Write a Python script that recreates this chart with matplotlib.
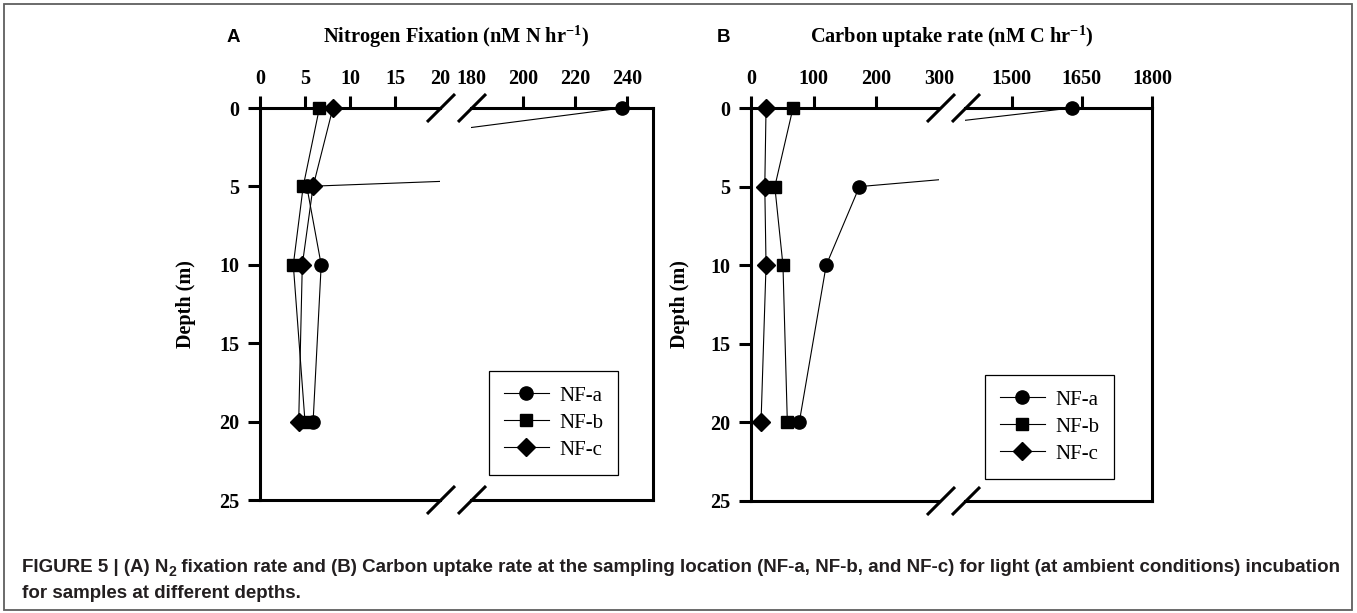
import matplotlib
matplotlib.use("Agg")
import matplotlib.pyplot as plt
from matplotlib.lines import Line2D
from matplotlib.patches import Rectangle
import numpy as np

plt.rcParams['mathtext.fontset'] = 'custom'
plt.rcParams['mathtext.rm'] = 'Liberation Serif:bold'
plt.rcParams['mathtext.it'] = 'Liberation Serif:bold:italic'
plt.rcParams['mathtext.bf'] = 'Liberation Serif:bold'

# ---------------- data ----------------
depth = [0, 5, 10, 20]
series_names = ["NF-a", "NF-b", "NF-c"]
markers = ["o", "s", "D"]

# Panel A: Nitrogen fixation (nM N hr-1)
nfix_a = [238.0, 5.2, 6.8, 5.9]
nfix_b = [6.6, 4.8, 3.7, 5.0]
nfix_c = [8.1, 5.9, 4.7, 4.3]

# Panel B: Carbon uptake rate (nM C hr-1)
carb_a = [1628.0, 173.0, 120.0, 77.0]
carb_b = [67.0, 38.0, 51.0, 58.0]
carb_c = [24.0, 22.0, 24.0, 16.0]

depth_ticks = [0, 5, 10, 15, 20, 25]
a_ticks1 = [0, 5, 10, 15, 20]
a_ticks2 = [180, 200, 220, 240]
b_ticks1 = [0, 100, 200, 300]
b_ticks2 = [1500, 1650, 1800]
a_lim1, a_lim2 = (0, 20), (180, 250)
b_lim1, b_lim2 = (0, 300), (1400, 1800)

caption1_pre = "FIGURE 5 | (A) N"
caption1_sub = "2"
caption1_post = (" fixation rate and (B) Carbon uptake rate at the sampling location "
                 "(NF-a, NF-b, and NF-c) for light (at ambient conditions) incubation")
caption2 = "for samples at different depths."

# ---------------- layout ----------------
W, H = 1357, 613
fig = plt.figure(figsize=(W / 100, H / 100), dpi=100)

def rect(x0, x1, y0, y1):
    return [x0 / W, 1 - y1 / H, (x1 - x0) / W, (y1 - y0) / H]

SERIF = "Liberation Serif"
SPW = 2.2
TFS = 14.5

def make_axis(pos, xlim, ticks, side, hidden_ticklines):
    ax = fig.add_axes(pos)
    ax.set_xlim(*xlim)
    ax.set_ylim(25, 0)
    ax.xaxis.tick_top()
    ax.set_xticks(ticks)
    ax.set_xticklabels([str(t) for t in ticks], fontfamily=SERIF,
                       fontweight='bold', fontsize=TFS)
    ax.tick_params(axis='x', which='both', direction='out', length=9,
                   width=SPW, pad=5, top=True, bottom=False)
    for sp in ax.spines.values():
        sp.set_linewidth(SPW)
    if side == 'left':
        ax.spines['right'].set_visible(False)
        ax.set_yticks(depth_ticks)
        ax.set_yticklabels([str(t) for t in depth_ticks], fontfamily=SERIF,
                           fontweight='bold', fontsize=TFS)
        ax.tick_params(axis='y', direction='out', length=9, width=SPW,
                       pad=6, left=True, right=False)
    else:
        ax.spines['left'].set_visible(False)
        ax.set_yticks([])
    for i in hidden_ticklines:
        ax.xaxis.get_major_ticks()[i].tick2line.set_visible(False)
    ax.patch.set_alpha(0)
    return ax

def plot_series(ax, xs_list, xlim):
    for xs, mk in zip(xs_list, markers):
        ax.plot(xs, depth, color='black', lw=0.8, zorder=2)
        xs = np.asarray(xs)
        d = np.asarray(depth)
        m = (xs >= xlim[0]) & (xs <= xlim[1])
        ax.plot(xs[m], d[m], linestyle='none', marker=mk, color='black',
                markersize=9.5 if mk != 's' else 8.5, clip_on=False, zorder=5)

# Panel A
axA1 = make_axis(rect(260, 440, 108, 500), a_lim1, a_ticks1, 'left', [4])
axA2 = make_axis(rect(471, 653, 108, 500), a_lim2, a_ticks2, 'right', [0])
for ax, lim in ((axA1, a_lim1), (axA2, a_lim2)):
    plot_series(ax, [nfix_a, nfix_b, nfix_c], lim)

# Panel B
axB1 = make_axis(rect(751, 939, 108, 501), b_lim1, b_ticks1, 'left', [3])
axB2 = make_axis(rect(965, 1152, 108, 501), b_lim2, b_ticks2, 'right', [])
for ax, lim in ((axB1, b_lim1), (axB2, b_lim2)):
    plot_series(ax, [carb_a, carb_b, carb_c], lim)

for ax in (axA1, axB1):
    ax.set_ylabel("Depth (m)", fontfamily=SERIF, fontweight='bold', fontsize=TFS)
axA1.yaxis.set_label_coords((196 - 260) / 180, 0.5)
axB1.yaxis.set_label_coords((690 - 751) / 188, 0.5)

# break marks
def brk(cx, cy):
    d = 14
    fig.add_artist(Line2D([(cx - d) / W, (cx + d) / W],
                          [1 - (cy + d) / H, 1 - (cy - d) / H],
                          color='black', lw=SPW, solid_capstyle='butt'))

for cx in (441, 472, 941, 966):
    brk(cx, 108)
for cx in (441, 472):
    brk(cx, 500)
for cx in (941, 966):
    brk(cx, 501)

# legends
handles = [Line2D([0], [0], color='black', lw=0.8, marker=mk,
                  markersize=9.5 if mk != 's' else 8.5) for mk in markers]
for ax, (lx, ly) in ((axA2, (489, 371)), (axB2, (985, 375))):
    leg = ax.legend(handles, series_names, loc='upper left',
                    bbox_to_anchor=(lx / W, 1 - ly / H),
                    bbox_transform=fig.transFigure, borderaxespad=0,
                    prop={'family': SERIF, 'size': 15}, fancybox=False,
                    framealpha=1, edgecolor='black', handlelength=2.15,
                    handletextpad=0.5, labelspacing=0.36, borderpad=0.72)
    leg.get_frame().set_linewidth(0.9)

# titles and panel letters
fig.text(456 / W, 1 - 37 / H, r"Nitrogen Fixation (nM N hr$^{-1}$)",
         ha='center', va='center', fontfamily=SERIF, fontweight='bold', fontsize=14.7)
fig.text(952 / W, 1 - 37 / H, r"Carbon uptake rate (nM C hr$^{-1}$)",
         ha='center', va='center', fontfamily=SERIF, fontweight='bold', fontsize=14.7)
fig.text(227 / W, 1 - 38 / H, "A", ha='left', va='center',
         fontfamily='Liberation Sans', fontweight='bold', fontsize=13.5)
fig.text(717 / W, 1 - 38 / H, "B", ha='left', va='center',
         fontfamily='Liberation Sans', fontweight='bold', fontsize=13.5)

# caption
CAP = dict(fontfamily='Liberation Sans', fontweight='bold', color='#231f20')
cs = 13.5
renderer = fig.canvas.get_renderer()
y1 = 1 - 572 / H
t1 = fig.text(22 / W, y1, caption1_pre, ha='left', va='baseline', fontsize=cs, **CAP)
bb = t1.get_window_extent(renderer)
t2 = fig.text(bb.x1 / W, y1 - 4 / H, caption1_sub, ha='left', va='baseline',
              fontsize=cs * 0.75, **CAP)
bb2 = t2.get_window_extent(renderer)
fig.text(bb2.x1 / W, y1, caption1_post, ha='left', va='baseline', fontsize=cs, **CAP)
fig.text(22 / W, 1 - 598 / H, caption2, ha='left', va='baseline', fontsize=cs, **CAP)

# outer border
fig.add_artist(Rectangle((4 / W, 3 / H), 1348 / W, 606 / H, transform=fig.transFigure,
                         fill=False, edgecolor='#5f5f5f', lw=1.3))

fig.savefig("out.png", dpi=100)
